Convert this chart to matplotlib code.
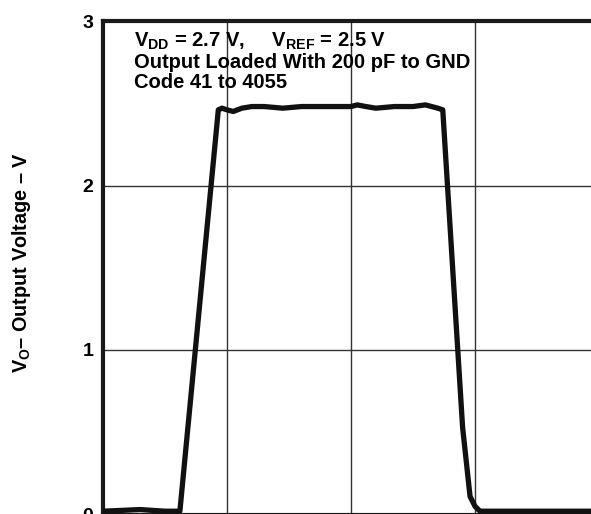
import matplotlib
matplotlib.use("Agg")
import matplotlib.pyplot as plt

plt.rcParams['font.family'] = ['Liberation Sans', 'DejaVu Sans']
plt.rcParams['font.weight'] = 'bold'
plt.rcParams['mathtext.fontset'] = 'custom'
plt.rcParams['mathtext.rm'] = 'Liberation Sans:bold'
plt.rcParams['mathtext.it'] = 'Liberation Sans:bold'
plt.rcParams['mathtext.bf'] = 'Liberation Sans:bold'

# Waveform (time in grid divisions, voltage in V)
t = [0.00, 0.30, 0.50, 0.62, 0.93, 0.96, 1.00, 1.05, 1.12, 1.20,
     1.30, 1.45, 1.60, 1.75, 1.90, 2.00, 2.05, 2.12, 2.20, 2.35, 2.50, 2.60,
     2.70, 2.74, 2.90, 2.96, 3.00, 3.04, 3.20, 3.40, 3.60, 3.80, 4.10]
v = [0.02, 0.03, 0.02, 0.02, 2.46, 2.47, 2.46, 2.45, 2.47, 2.48,
     2.48, 2.47, 2.48, 2.48, 2.48, 2.48, 2.49, 2.48, 2.47, 2.48, 2.48, 2.49,
     2.47, 2.46, 0.53, 0.11, 0.05, 0.02, 0.02, 0.02, 0.02, 0.02, 0.02]

yticks = [0, 1, 2, 3]
ytick_labels = ['0', '1', '2', '3']
xgrid = [1, 2, 3]

W, H = 591, 514
fig = plt.figure(figsize=(W / 100, H / 100), dpi=100)
# axes: left at 103 px, top at 21 px, right/bottom running off the picture
left, top = 103, 21
width_px = 4 * 124
height_px = 3 * 164.5
ax = fig.add_axes([left / W, (H - top - height_px) / H, width_px / W, height_px / H])
ax.set_xlim(0, 4)
ax.set_ylim(0, 3)

for x in xgrid:
    ax.axvline(x, color='#333333', lw=1.0, zorder=1)
for y in [1, 2]:
    ax.axhline(y, color='#333333', lw=1.0, zorder=1)

ax.plot(t, v, color='#111111', lw=3.8, solid_joinstyle='round', zorder=3, clip_on=True)

ax.set_xticks([])
ax.set_yticks(yticks)
ax.set_yticklabels(ytick_labels, fontsize=14, fontweight='bold')
ax.tick_params(axis='y', length=0, pad=7)
for s in ['top', 'left', 'right', 'bottom']:
    ax.spines[s].set_linewidth(3)
    ax.spines[s].set_color('#1a1a1a')

fig.text(22 / W, 1 - 262 / H, r'$\mathrm{V_O}$– Output Voltage – V', rotation=90,
         ha='center', va='center', fontsize=14.3, fontweight='bold')

tx = 134 / W
fig.text(tx, 1 - 47 / H, r'$\mathrm{V_{DD}}$ = 2.7 V,     $\mathrm{V_{REF}}$ = 2.5 V',
         ha='left', va='baseline', fontsize=14.5, fontweight='bold')
fig.text(tx, 1 - 68 / H, 'Output Loaded With 200 pF to GND',
         ha='left', va='baseline', fontsize=14.5, fontweight='bold')
fig.text(tx, 1 - 88 / H, 'Code 41 to 4055',
         ha='left', va='baseline', fontsize=14.5, fontweight='bold')

fig.savefig('out.png', dpi=100)
